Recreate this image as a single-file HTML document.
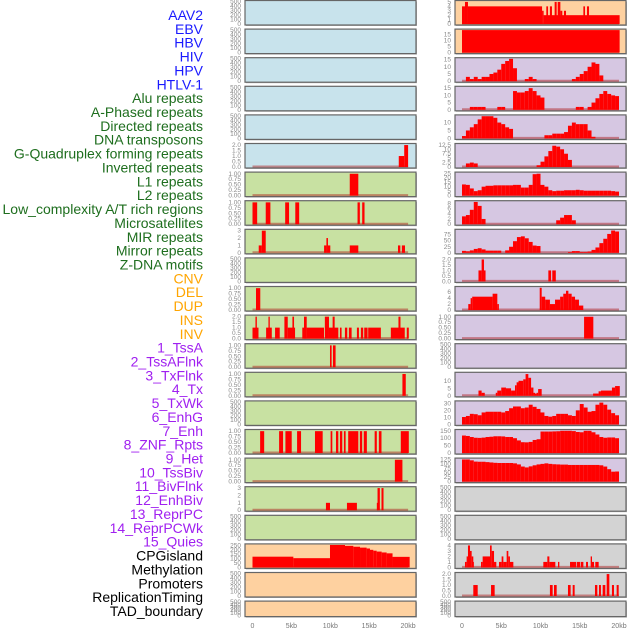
<!DOCTYPE html>
<html><head><meta charset="utf-8"><style>
html,body{margin:0;padding:0;background:#fff;}
svg{display:block;font-family:"Liberation Sans",sans-serif;}
</style></head><body>
<svg id="chart" width="630" height="630" viewBox="0 0 630 630" xmlns="http://www.w3.org/2000/svg"></svg>
<script>
// ---------- labels ----------
const labelNames = ["AAV2","EBV","HBV","HIV","HPV","HTLV-1","Alu repeats","A-Phased repeats","Directed repeats","DNA transposons","G-Quadruplex forming repeats","Inverted repeats","L1 repeats","L2 repeats","Low_complexity A/T rich regions","Microsatellites","MIR repeats","Mirror repeats","Z-DNA motifs","CNV","DEL","DUP","INS","INV","1_TssA","2_TssAFlnk","3_TxFlnk","4_Tx","5_TxWk","6_EnhG","7_Enh","8_ZNF_Rpts","9_Het","10_TssBiv","11_BivFlnk","12_EnhBiv","13_ReprPC","14_ReprPCWk","15_Quies","CPGisland","Methylation","Promoters","ReplicationTiming","TAD_boundary"];
const labelGroups = [6,13,5,15,5];
const xTickLabels = ["0","5kb","10kb","15kb","20kb"];
const xTickValues = [0,5,10,15,20];

// ---------- tick sets ----------
const T_EMPTY = [0,100,200,300,400,500];
const T_1 = [0,0.25,0.5,0.75,1.0];
const T_2 = [0,0.5,1.0,1.5,2.0];
const T_3 = [0,1,2,3];

// ---------- left column data: [startKb, endKb, value] ----------
const L_G4 = [[18.8,19.5,1],[19.5,20,2]];
const L_L1 = [[12.5,13.6,1]];
const L_L2 = [[0,0.6,1],[1.7,2.3,1],[4.2,4.7,1],[5.5,6.0,1],[13.5,13.8,1],[14.1,14.4,1]];
const L_LOWC = [[0.8,1.2,1],[1.2,1.7,3],[9.2,9.5,1],[9.5,9.7,2],[9.7,10.0,1],[12.5,13.6,1],[18.7,19.0,1],[19.2,19.6,1]];
const L_MIR = [[0.45,1.0,1]];
const L_MIRROR = [[0,0.77,1],[0.38,0.56,2],[1.75,2.48,1],[2.05,2.22,2],[2.9,3.5,1],[4.1,4.53,2],[4.53,5.47,1],[5.13,5.34,2],[6.4,6.97,1],[6.62,6.97,2],[6.97,9.19,1],[9.3,9.83,2],[9.83,11.03,1],[10.3,10.56,2],[11.24,11.45,1],[11.88,12.18,1],[12.39,12.74,1],[13.42,13.68,1],[13.93,14.23,1],[14.36,14.79,1],[14.87,16.5,1],[17.78,19.57,1],[18.76,19.02,2],[19.83,20.09,1]];
const L_ZDNA = [[9.96,10.17,1],[10.34,10.68,1]];
const L_CNV = [[19.27,19.7,1]];
const L_DUP = [[0.98,1.5,1],[3.42,3.93,1],[4.23,5.04,1],[5.73,6.24,1],[8.03,9.02,1],[10.04,10.26,1],[10.73,11.03,1],[11.24,11.54,1],[11.75,11.97,1],[12.3,13.6,1],[13.8,14.1,1],[14.3,14.7,1],[15.7,15.98,1],[16.24,16.58,1],[19.06,20.09,1]];
const L_INS = [[18.3,19.27,1]];
const L_INV = [[9.44,9.96,1],[12.14,13.42,1],[15.98,16.15,1],[16.07,16.37,3],[16.58,16.84,3]];
const L_CPG = [[0,5.25,122],[5.25,9.96,105],[9.96,11.89,255],[11.89,12.96,245],[12.96,13.82,235],[13.82,14.67,225],[14.67,15.1,215],[15.1,15.53,200],[15.53,15.96,190],[15.96,16.6,180],[16.6,17.24,170],[17.24,18.0,160],[18.0,20.2,120]];

// ---------- right column data ----------
const R_AAV2 = [[0,0.38,4],[0.38,0.76,5],[0.76,10.2,4],[10.2,10.4,3],[10.4,20.08,2],[10.74,10.96,4],[11.2,11.46,4],[11.8,12.06,5],[12.19,12.53,5],[12.53,12.78,3],[12.99,13.25,3],[15.46,15.67,4],[15.92,16.18,4]];
const R_EBV = [[0,20.08,18.5]];
// 0.5 kb bins
const R_HIV_BINS = [0,3,1.5,3,1.5,3,3,5,6,8,12,14,15.5,9,0,0,1.5,3,1.5,0,0,0,0,0,0,0,0,0,1.5,3,5,7,10,13,12,4,0,0,0,0];
const R_HPV_BINS = [0,0,2,2,2,2,0,0,0,2,2,0,0,13,12,12,13,15,13,10,8.5,0,0,0,0,0,0,0,0,2,2,0,2,5,8,11,13,11,10,9.5];
const R_HTLV_BINS = [1.5,5,7,9,12,14,14,14,13,10,9,7,6,0,0,0,0,0,0,0,0,2,2,3,3,3,4,8,10,9,9,9,5,1,0,0,0,0,0,0];
const R_ALU_BINS = [0,2,2.5,2,0,0,0,0,0,0,0,0,0,0,0,0,0,0,0,1,3,6,9,12,11.5,10,7.5,4,0,0,0,0,0,0,0,0,0,0,0,0];
const R_APH_BINS = [12.5,12,8,5,6,10,11,11,11.5,11.5,11.5,11.5,11.5,12,12,9,9,12,24,24.5,12,10,6,5,5.5,5.5,6,6,6,6.5,6,5.5,5.5,5.5,5.5,5.5,5.5,5.5,5,4.5];
const R_DIR_BINS = [3,3.5,5.5,8.5,7,2,0,0,0,0,0,0,0,0,0,0,0,0,0,0,0,0,0,0,1.5,2.5,3.5,3.5,1.5,0,0,0,0,0,0,0,0,0,0,0];
const R_DNAT_BINS = [8,6,10,16,19,14,9,9,9,9,0,10,25,48,65,68,60,45,30,28,0,0,0,0,0,0,0,3,7,7,3,3,5,12,22,40,58,78,92,88];
const R_G4 = [[2.1,2.5,1],[2.5,2.8,2],[2.8,3.0,1],[11.0,11.35,1],[11.5,11.95,1]];
const R_INVR = [[0.8,1.1,2],[1.1,1.3,4],[1.3,3.9,4.5],[3.9,4.5,5.5],[4.5,4.7,2],[9.9,10.15,7.5],[10.15,10.6,4.5],[10.6,11.2,3.5],[11.2,11.85,2],[11.85,12.5,3.5],[12.5,12.9,4.5],[12.9,13.25,5.5],[13.25,13.55,6.5],[13.55,13.97,5.5],[13.97,14.4,4.5],[14.4,14.9,3.5],[14.9,15.45,1.5]];
const R_L1 = [[15.55,16.73,1]];
const R_LOWC = [[2.1,2.5,3.5],[2.5,2.9,2],[4.3,4.5,2],[4.5,5.0,3.5],[5.0,5.6,5.5],[5.6,6.25,5],[6.25,6.75,3.5],[6.75,6.96,7],[6.96,7.2,9],[7.2,7.8,10],[7.8,8.1,11],[8.1,8.45,14.5],[8.45,8.8,12],[8.8,9.1,5.5],[9.1,9.3,2],[9.3,9.5,1.5],[9.5,9.7,2],[9.7,10.15,4.5],[16.7,17.4,1.5],[17.4,17.7,3],[17.7,19.1,3.5],[19.1,19.5,5.5],[19.5,20.1,6.5]];
const R_MIR_BINS = [10.5,12,15,14.5,13,17,18,18,18,18,17,19,23,25.5,25.5,23,24,28,25,22,17,12,11,12,15,15,15,13,12,20,29,24,18,19,28,31,28,21,16,13];
const R_MIRROR_BINS = [118,115,108,103,102,104,108,110,113,113,112,108,108,100,85,73,72,75,88,93,145,145,145,146,147,150,150,150,148,142,140,150,150,140,125,108,103,105,105,100];
const R_ZDNA_BINS = [125,125,120,113,112,112,110,108,106,105,105,105,105,103,97,85,80,86,92,97,100,103,100,98,97,96,96,94,94,94,94,94,94,94,94,92,85,70,56,57];
const R_CPG = [[0.38,0.59,1],[0.59,0.76,2],[0.76,1.02,4],[1.02,1.23,3],[1.23,1.44,2],[1.44,1.53,1],[2.42,2.63,1],[2.63,3.57,2],[3.57,3.78,4],[3.78,4.08,3],[4.08,4.37,1],[4.71,5.05,1],[5.05,5.27,2],[5.27,5.69,1],[5.69,5.9,3],[5.9,6.11,2],[6.11,6.54,1],[10.36,10.87,1],[10.87,11.13,2],[11.13,11.89,1],[12.23,12.4,1],[13.76,14.27,1],[14.27,14.52,1],[14.61,15.03,1],[15.12,15.46,1],[15.8,16.05,1],[16.39,16.56,2],[16.56,16.82,1],[16.98,17.41,1]];
const R_PROM = [[1.44,2.0,1],[3.7,4.16,1],[11.2,11.55,1],[11.72,12.06,1],[13.5,13.84,1],[14.1,14.35,1],[16.94,17.24,1],[17.45,17.7,1],[17.92,18.26,1],[18.43,18.77,2],[19.1,19.36,1],[19.7,19.96,1]];

function bins(arr){const out=[];arr.forEach((v,i)=>{if(v>0)out.push([i*0.5,i*0.5+0.5,v]);});return out;}

// ---------- panel configuration ----------
const BLUE="#c8e3ec", GREEN="#c8e1a2", ORANGE="#fed1a0", PURPLE="#d6c7e2", GRAY="#d3d3d3";
const leftPanels = [
 {bg:BLUE,ticks:T_EMPTY,max:500,name:"aav2"},{bg:BLUE,ticks:T_EMPTY,max:500,name:"ebv"},
 {bg:BLUE,ticks:T_EMPTY,max:500,name:"hbv"},{bg:BLUE,ticks:T_EMPTY,max:500,name:"hiv"},
 {bg:BLUE,ticks:T_EMPTY,max:500,name:"hpv"},{bg:BLUE,ticks:T_2,max:2.05,data:L_G4,name:"g-quadruplex"},
 {bg:GREEN,ticks:T_1,max:1.03,data:L_L1,name:"l1"},{bg:GREEN,ticks:T_1,max:1.03,data:L_L2,name:"l2"},
 {bg:GREEN,ticks:T_3,max:3.05,data:L_LOWC,name:"low-complexity"},{bg:GREEN,ticks:T_EMPTY,max:500,name:"microsatellites"},
 {bg:GREEN,ticks:T_1,max:1.03,data:L_MIR,name:"mir"},{bg:GREEN,ticks:T_2,max:2.05,data:L_MIRROR,name:"mirror"},
 {bg:GREEN,ticks:T_1,max:1.03,data:L_ZDNA,name:"z-dna"},{bg:GREEN,ticks:T_1,max:1.03,data:L_CNV,name:"cnv"},
 {bg:GREEN,ticks:T_EMPTY,max:500,name:"del"},{bg:GREEN,ticks:T_1,max:1.03,data:L_DUP,name:"dup"},
 {bg:GREEN,ticks:T_1,max:1.03,data:L_INS,name:"ins"},{bg:GREEN,ticks:T_3,max:3.05,data:L_INV,name:"inv"},
 {bg:GREEN,ticks:T_EMPTY,max:500,name:"chromhmm"},{bg:ORANGE,ticks:[0,50,100,150,200,250],max:256,data:L_CPG,name:"cpg"},
 {bg:ORANGE,ticks:T_EMPTY,max:500,name:"promoters"},{bg:ORANGE,ticks:T_EMPTY,max:500,name:"tad"}
];
const rightPanels = [
 {bg:ORANGE,ticks:[0,1,2,3,4,5],max:5.1,data:R_AAV2,name:"aav2"},{bg:ORANGE,ticks:[0,5,10,15],max:18.5,data:R_EBV,name:"ebv"},
 {bg:PURPLE,ticks:[0,5,10,15],max:15.6,data:bins(R_HIV_BINS),name:"hiv"},{bg:PURPLE,ticks:[0,5,10,15],max:15.6,data:bins(R_HPV_BINS),name:"hpv"},
 {bg:PURPLE,ticks:[0,5,10],max:14.2,data:bins(R_HTLV_BINS),name:"htlv"},{bg:PURPLE,ticks:[0,2.5,5,7.5,10,12.5],max:12.7,data:bins(R_ALU_BINS),name:"alu"},
 {bg:PURPLE,ticks:[0,5,10,15,20,25],max:25.2,data:bins(R_APH_BINS),name:"a-phased"},{bg:PURPLE,ticks:[0,2,4,6,8],max:8.6,data:bins(R_DIR_BINS),name:"directed"},
 {bg:PURPLE,ticks:[0,25,50,75],max:93,data:bins(R_DNAT_BINS),name:"dna-transposons"},{bg:PURPLE,ticks:T_2,max:2.05,data:R_G4,name:"g-quadruplex"},
 {bg:PURPLE,ticks:[0,2,4,6],max:7.6,data:R_INVR,name:"inverted"},{bg:PURPLE,ticks:T_1,max:1.03,data:R_L1,name:"l1"},
 {bg:PURPLE,ticks:T_EMPTY,max:500,name:"l2"},{bg:PURPLE,ticks:[0,5,10],max:15,data:R_LOWC,name:"low-complexity"},
 {bg:PURPLE,ticks:[0,10,20,30],max:32,data:bins(R_MIR_BINS),name:"mir"},{bg:PURPLE,ticks:[0,50,100,150],max:152,data:bins(R_MIRROR_BINS),name:"mirror"},
 {bg:PURPLE,ticks:[0,25,50,75,100,125],max:127,data:bins(R_ZDNA_BINS),name:"z-dna"},{bg:GRAY,ticks:T_EMPTY,max:500,name:"sv1"},
 {bg:GRAY,ticks:T_EMPTY,max:500,name:"sv2"},{bg:GRAY,ticks:[0,1,2,3,4],max:4.1,data:R_CPG,name:"cpg"},
 {bg:GRAY,ticks:T_2,max:2.05,data:R_PROM,name:"promoters"},{bg:GRAY,ticks:T_EMPTY,max:500,name:"tad"}
];

const NS="http://www.w3.org/2000/svg";
const svg=document.getElementById("chart");
function el(tag,attrs,parent){const e=document.createElementNS(NS,tag);for(const k in attrs)e.setAttribute(k,attrs[k]);(parent||svg).appendChild(e);return e;}

// labels
const labelColors=["#1a1aff","#1e6e1e","#ffa500","#a020f0","#000000"];
let gi=0,cnt=0;
labelNames.forEach((n,i)=>{
  while(cnt>=labelGroups[gi]){gi++;cnt=0;}
  cnt++;
  const t=el("text",{x:203,y:15+i*13.86+5,"text-anchor":"end","font-size":"14",fill:labelColors[gi]});
  
  
  t.textContent=n;
});

function fmt(ticks,v){
  if(ticks===T_1) return v.toFixed(2);
  if(ticks===T_2) return v.toFixed(1);
  return String(v);
}

function drawPanel(p,row,col){
  const left = col===0?245:455, right = col===0?416:626;
  const x0 = col===0?252.5:462, pxkb = col===0?7.78:7.85;
  const top = 0.5+28.6*row;
  const h = row===21?15.5:24.5;
  const xs = kb=>x0+kb*pxkb;
  const y0 = top+h-1, y1 = top+1;
  const ys = v=>y0-(v/p.max)*(y0-y1);
  const g=el("g",{});
  
  
  el("rect",{x:left+1,y:top+1,width:right-left,height:h,fill:"#b8b8b8"},g);
  el("rect",{x:left,y:top,width:right-left,height:h,fill:p.bg,stroke:"#666","stroke-width":1.2},g);
  p.ticks.forEach(t=>{
    const tx=el("text",{x:left-4,y:ys(t)+2,"text-anchor":"end","font-size":"6.5",fill:"#8a8a8a"},g);
    
    
    tx.textContent=fmt(p.ticks,t);
  });
  if(p.data){
    el("line",{x1:xs(0),x2:xs(20),y1:y0-0.5,y2:y0-0.5,stroke:"rgba(170,20,20,0.45)","stroke-width":2},g);
    p.data.forEach(d=>{
      const r=el("rect",{x:xs(d[0]),y:ys(d[2]),width:Math.max(0.6,xs(d[1])-xs(d[0])),height:y0-ys(d[2]),fill:"#ff0000"},g);
      
      
    });
  }
}
leftPanels.forEach((p,i)=>drawPanel(p,i,0));
rightPanels.forEach((p,i)=>drawPanel(p,i,1));

// x axes
[0,1].forEach(col=>{
  const x0=col===0?252.5:462, pxkb=col===0?7.78:7.85;
  xTickValues.forEach((v,i)=>{
    const t=el("text",{x:x0+v*pxkb,y:628,"text-anchor":"middle","font-size":"7",fill:"#777"});
    
    
    t.textContent=xTickLabels[i];
  });
});
</script>
</body></html>
